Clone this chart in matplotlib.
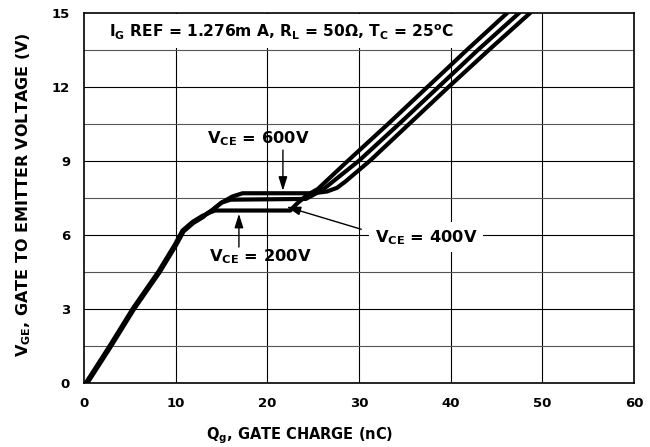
import matplotlib
matplotlib.use("Agg")
import matplotlib.pyplot as plt
from matplotlib.patches import Rectangle

plt.rcParams['font.family'] = ['DejaVu Sans']
plt.rcParams['font.weight'] = 'bold'
plt.rcParams['mathtext.fontset'] = 'custom'
plt.rcParams['mathtext.bf'] = 'DejaVu Sans:bold'
plt.rcParams['mathtext.rm'] = 'DejaVu Sans:bold'
plt.rcParams['mathtext.default'] = 'bf'

# ---- data ----
x_ticks = [0, 10, 20, 30, 40, 50, 60]
y_ticks = [0, 3, 6, 9, 12, 15]

q_common = [0.3, 1.0, 2.9, 5.4, 8.2, 10.0, 10.8, 11.9, 13.0]
v_common = [0.0, 0.4, 1.5, 3.0, 4.5, 5.6, 6.15, 6.5, 6.75]

q_200 = [13.0, 13.6, 14.3, 22.5, 23.2, 24.3, 25.5, 28.8, 33.2, 37.5, 41.8, 46.2]
v_200 = [6.75, 6.88, 6.98, 6.98, 7.25, 7.6, 7.85, 9.0, 10.5, 12.0, 13.5, 15.0]

q_400 = [13.0, 14.0, 15.0, 16.0, 24.2, 25.2, 26.3, 30.0, 34.4, 38.7, 43.0, 47.5]
v_400 = [6.75, 7.0, 7.3, 7.42, 7.45, 7.65, 7.9, 9.0, 10.5, 12.0, 13.5, 15.0]

q_600 = [13.0, 14.0, 15.0, 16.2, 17.3, 25.0, 26.5, 27.6, 28.5, 31.2, 35.5, 39.8, 44.2, 48.7]
v_600 = [6.75, 7.0, 7.3, 7.55, 7.68, 7.68, 7.75, 7.9, 8.15, 9.0, 10.5, 12.0, 13.5, 15.0]

W, H = 650, 447
fig = plt.figure(figsize=(W / 100, H / 100), dpi=100)
ax = fig.add_axes([84 / W, 1 - 382.7 / H, 550 / W, 370 / H])
ax.set_xlim(0, 60)
ax.set_ylim(0, 15)

# grid
for x in x_ticks[1:-1]:
    ax.axvline(x, color='black', lw=0.8, zorder=1)
for i in range(1, 10):
    y = 1.5 * i
    c = 'black' if i % 2 == 0 else '#555555'
    ax.axhline(y, color=c, lw=0.8, zorder=1)

# white area behind the condition text
ax.add_patch(Rectangle((0.1, 13.56), 41.0, 1.38, facecolor='white',
                       edgecolor='none', zorder=2))

ax.plot(q_common, v_common, color='black', lw=4.0, solid_capstyle='round',
        solid_joinstyle='round', zorder=3)
for q, v in [(q_200, v_200), (q_400, v_400), (q_600, v_600)]:
    ax.plot(q, v, color='black', lw=3.0, solid_capstyle='round',
            solid_joinstyle='round', zorder=3)

ax.text(21.5, 14.2, "I$_{G}$ REF = 1.276m A, R$_{L}$ = 50Ω, T$_{C}$ = 25$^{o}$C",
        ha='center', va='center', fontsize=11.2, fontweight='bold', zorder=4)

aprops = dict(arrowstyle='-|>,head_length=0.7,head_width=0.22', color='black',
              lw=1.0, mutation_scale=12, shrinkA=0, shrinkB=0)

ax.text(19.0, 9.9, "V$_{CE}$ = 600V", ha='center', va='center', fontsize=11.7,
        fontweight='bold', zorder=4)
ax.annotate('', xy=(21.7, 7.78), xytext=(21.7, 9.43), arrowprops=aprops, zorder=4)

ax.text(19.2, 5.1, "V$_{CE}$ = 200V", ha='center', va='center', fontsize=11.7,
        fontweight='bold', zorder=4)
ax.annotate('', xy=(16.9, 6.85), xytext=(16.9, 5.5), arrowprops=aprops, zorder=4)

ax.text(37.3, 5.9, "V$_{CE}$ = 400V", ha='center', va='center', fontsize=11.7,
        fontweight='bold', zorder=4,
        bbox=dict(facecolor='white', edgecolor='none', pad=4))
ax.annotate('', xy=(22.1, 7.13), xytext=(30.25, 6.22), arrowprops=aprops, zorder=4)

ax.set_xticks(x_ticks)
ax.set_yticks(y_ticks)
ax.tick_params(length=0, labelsize=9.5, pad=10)
for lab in ax.get_xticklabels() + ax.get_yticklabels():
    lab.set_fontweight('bold')
for s in ax.spines.values():
    s.set_linewidth(1.2)
    s.set_zorder(5)

fig.text(300 / W, 1 - 436 / H, "Q$_{g}$, GATE CHARGE (nC)", ha='center', va='center',
         fontsize=10.5, fontweight='bold')
fig.text(24 / W, 1 - 195 / H, "V$_{GE}$, GATE TO EMITTER VOLTAGE (V)", ha='center',
         va='center', rotation=90, fontsize=11.5, fontweight='bold')

fig.savefig('out.png', dpi=100)
